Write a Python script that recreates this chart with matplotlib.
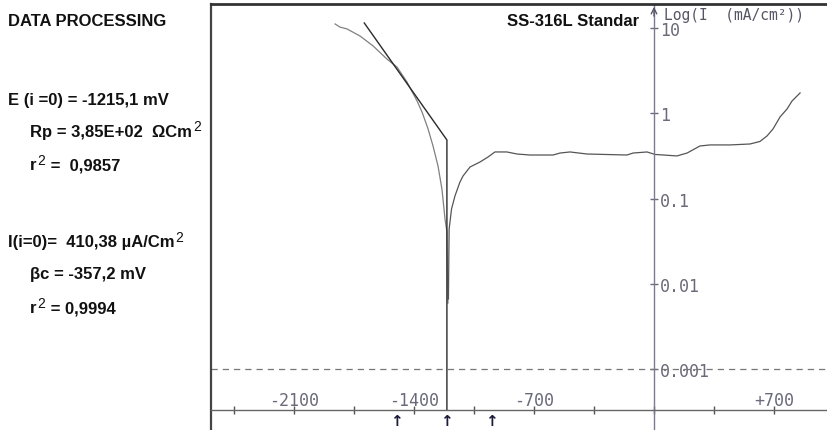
import matplotlib
matplotlib.use("Agg")
import matplotlib.pyplot as plt
from matplotlib.ticker import NullLocator, FixedLocator, FixedFormatter

# ---------------- data ----------------
# cathodic branch: potential (mV) and current density (mA/cm2)
cath_E = [-1860, -1832, -1791, -1715, -1639, -1558, -1499, -1441, -1382, -1353,
          -1318, -1289, -1260, -1237, -1219, -1208, -1205, -1202]
cath_I = [11.2, 10.3, 9.8, 8.1, 6.2, 4.35, 3.5, 2.34, 1.40, 1.04,
          0.66, 0.416, 0.243, 0.130, 0.058, 0.041, 0.015, 0.006]
# anodic branch
an_E = [-1199, -1197, -1195, -1181, -1161, -1132, -1114, -1073, -1015, -968,
        -928, -858, -799, -723, -589, -548, -490, -391, -158, -122,
        -41, 6, 134, 193, 268, 327, 443, 560, 618, 659,
        694, 735, 776, 805, 852]
an_I = [0.0067, 0.0197, 0.0443, 0.0759, 0.108, 0.157, 0.185, 0.236, 0.270, 0.309,
        0.354, 0.354, 0.335, 0.326, 0.326, 0.344, 0.354, 0.335, 0.326, 0.344,
        0.354, 0.331, 0.318, 0.344, 0.416, 0.428, 0.428, 0.439, 0.47, 0.545,
        0.658, 0.91, 1.13, 1.40, 1.74]
# Tafel fit line and E(i=0) marker
tafel_E = [-1690, -1208, -1208]
tafel_I = [11.5, 0.489, 3.34e-4]
# markers below the axis
arrow_E = [-1505, -1208, -951]

x_ticks = [-2450, -2100, -1750, -1400, -1050, -700, -350, 0, 350, 700]
x_ticklabels = ["", "-2100", "", "-1400", "", "-700", "", "", "", "+700"]
y_ticks = [10, 1, 0.1, 0.01, 0.001]
y_ticklabels = ["10", "1", "0.1", "0.01", "0.001"]

W, H = 827, 431
fig = plt.figure(figsize=(W / 100, H / 100), dpi=100)
fig.patch.set_facecolor("white")

ax = fig.add_axes([211 / W, 0, 616 / W, 426 / H])
ax.set_yscale("log")
ax.set_xlim(-2584, 1009)
ax.set_ylim(1.95e-4, 19.2)

mono = "DejaVu Sans Mono"
tick_col = "#6a6a7a"

# spines
ax.spines["top"].set_linewidth(2.0)
ax.spines["top"].set_color("#333333")
ax.spines["left"].set_linewidth(1.6)
ax.spines["left"].set_color("#444444")
ax.spines["right"].set_position(("data", 0))
ax.spines["right"].set_color("#7a7a90")
ax.spines["right"].set_linewidth(1.0)
ax.spines["bottom"].set_position(("data", 3.34e-4))
ax.spines["bottom"].set_color("#666666")
ax.spines["bottom"].set_linewidth(1.0)

ax.yaxis.tick_right()
ax.yaxis.set_major_locator(FixedLocator(y_ticks))
ax.yaxis.set_major_formatter(FixedFormatter(y_ticklabels))
ax.yaxis.set_minor_locator(NullLocator())
ax.xaxis.set_major_locator(FixedLocator(x_ticks))
ax.xaxis.set_major_formatter(FixedFormatter(x_ticklabels))
ax.tick_params(axis="y", direction="inout", length=6, width=1, colors=tick_col,
               pad=1, labelsize=12)
ax.tick_params(axis="x", direction="inout", length=6, width=1, colors="#555555",
               pad=-17, labelsize=12, labelcolor=tick_col)
for lab in ax.get_xticklabels() + ax.get_yticklabels():
    lab.set_fontfamily(mono)

# dashed 0.001 line
ax.axhline(0.001, color="#777777", lw=0.9, ls=(0, (5, 4)))

# curves
ax.plot(cath_E, cath_I, color="#808080", lw=0.9)
ax.plot(an_E, an_I, color="#555555", lw=0.9)
ax.plot(tafel_E, tafel_I, color="#2a2a2a", lw=1.0)

# arrow on top of y axis
ax.annotate("", xy=(0, 1.0), xycoords=ax.get_xaxis_transform(),
            xytext=(0, 0.965), textcoords=ax.get_xaxis_transform(),
            arrowprops=dict(arrowstyle="->", color="#555566", lw=1.0))

# markers below the x axis
for e in arrow_E:
    ax.text(e, 0.022, "↑", transform=ax.get_xaxis_transform(), ha="center",
            va="center", fontsize=11, color="#1a1a3a", fontweight="bold")

ax.text(0.735, 0.975, "Log(I  (mA/cm²))", transform=ax.transAxes, ha="left",
        va="center", fontsize=10.5, color="#555566", family=mono)

renderer = fig.canvas.get_renderer()
fam = ["Liberation Sans Narrow", "Liberation Sans", "DejaVu Sans"]


def chain(px, py, parts):
    x = px
    for s, sup in parts:
        if sup:
            t = fig.text(x / W, 1 - (py - 5) / H, s, ha="left", va="center",
                         family=fam, fontsize=10, color="#111111")
        else:
            t = fig.text(x / W, 1 - py / H, s, ha="left", va="center",
                         family=fam, fontsize=12, fontweight="bold", color="#111111")
        bb = t.get_window_extent(renderer)
        x = bb.x1 + 1


chain(8, 22, [("DATA PROCESSING", False)])
chain(8, 100, [("E (i =0) = -1215,1 mV", False)])
chain(30, 132, [("Rp = 3,85E+02  ΩCm", False), ("2", True)])
chain(30, 166, [("r", False), ("2", True), (" =  0,9857", False)])
chain(8, 243, [("I(i=0)=  410,38 µA/Cm", False), ("2", True)])
chain(30, 275, [("βc = -357,2 mV", False)])
chain(30, 309, [("r", False), ("2", True), (" = 0,9994", False)])
chain(507, 22, [("SS-316L Standar", False)])

fig.savefig("out.png", dpi=100, facecolor="white")
